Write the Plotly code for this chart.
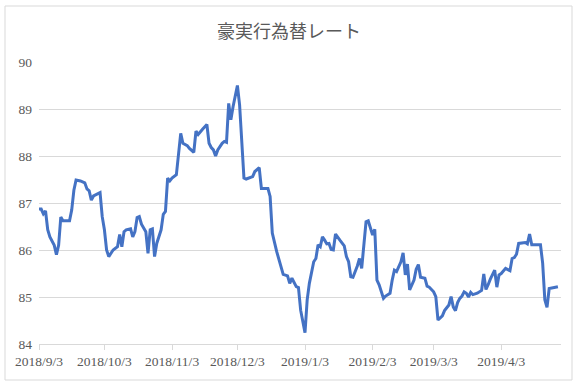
import plotly.graph_objects as go

dates = [
    "2018-09-03", "2018-09-04", "2018-09-05", "2018-09-06", "2018-09-07", "2018-09-08",
    "2018-09-10", "2018-09-11", "2018-09-12", "2018-09-13", "2018-09-14", "2018-09-17",
    "2018-09-18", "2018-09-19", "2018-09-20", "2018-09-22", "2018-09-24", "2018-09-25",
    "2018-09-26", "2018-09-27", "2018-09-28", "2018-10-01", "2018-10-02", "2018-10-03",
    "2018-10-04", "2018-10-05", "2018-10-07", "2018-10-09", "2018-10-10", "2018-10-11",
    "2018-10-12", "2018-10-13", "2018-10-15", "2018-10-16", "2018-10-17", "2018-10-18",
    "2018-10-19", "2018-10-20", "2018-10-22", "2018-10-23", "2018-10-24", "2018-10-25",
    "2018-10-26", "2018-10-27", "2018-10-29", "2018-10-30", "2018-10-31", "2018-11-01",
    "2018-11-02", "2018-11-03", "2018-11-05", "2018-11-06", "2018-11-07", "2018-11-08",
    "2018-11-10", "2018-11-11", "2018-11-13", "2018-11-14", "2018-11-15", "2018-11-17",
    "2018-11-18", "2018-11-19", "2018-11-20", "2018-11-21", "2018-11-22", "2018-11-23",
    "2018-11-24", "2018-11-26", "2018-11-27", "2018-11-28", "2018-11-29", "2018-11-30",
    "2018-12-01", "2018-12-03", "2018-12-04", "2018-12-05", "2018-12-06", "2018-12-07",
    "2018-12-10", "2018-12-11", "2018-12-13", "2018-12-14", "2018-12-17", "2018-12-18",
    "2018-12-19", "2018-12-21", "2018-12-24", "2018-12-26", "2018-12-27", "2018-12-28",
    "2018-12-29", "2018-12-30", "2018-12-31", "2019-01-01", "2019-01-03", "2019-01-04",
    "2019-01-05", "2019-01-07", "2019-01-08", "2019-01-09", "2019-01-10", "2019-01-11",
    "2019-01-12", "2019-01-13", "2019-01-14", "2019-01-15", "2019-01-16", "2019-01-17",
    "2019-01-19", "2019-01-21", "2019-01-22", "2019-01-23", "2019-01-24", "2019-01-25",
    "2019-01-27", "2019-01-28", "2019-01-29", "2019-01-30", "2019-01-31", "2019-02-01",
    "2019-02-02", "2019-02-03", "2019-02-04", "2019-02-05", "2019-02-06", "2019-02-08",
    "2019-02-09", "2019-02-11", "2019-02-12", "2019-02-13", "2019-02-14", "2019-02-16",
    "2019-02-17", "2019-02-18", "2019-02-19", "2019-02-20", "2019-02-22", "2019-02-23",
    "2019-02-24", "2019-02-25", "2019-02-27", "2019-02-28", "2019-03-01", "2019-03-03",
    "2019-03-04", "2019-03-05", "2019-03-07", "2019-03-08", "2019-03-10", "2019-03-11",
    "2019-03-12", "2019-03-13", "2019-03-14", "2019-03-15", "2019-03-16", "2019-03-17",
    "2019-03-18", "2019-03-19", "2019-03-20", "2019-03-21", "2019-03-23", "2019-03-25",
    "2019-03-26", "2019-03-27", "2019-03-28", "2019-03-29", "2019-03-31", "2019-04-01",
    "2019-04-02", "2019-04-03", "2019-04-05", "2019-04-07", "2019-04-08", "2019-04-09",
    "2019-04-10", "2019-04-11", "2019-04-14", "2019-04-15", "2019-04-16", "2019-04-17",
    "2019-04-21", "2019-04-22", "2019-04-23", "2019-04-24", "2019-04-25", "2019-04-28",
    "2019-04-29",
]

rates = [
    86.87, 86.87, 86.77, 86.83, 86.43, 86.28,
    86.10, 85.90, 86.10, 86.70, 86.62, 86.62,
    86.85, 87.27, 87.49, 87.47, 87.43, 87.30,
    87.26, 87.06, 87.15, 87.22, 86.71, 86.43,
    86.00, 85.86, 86.00, 86.07, 86.33, 86.07,
    86.39, 86.43, 86.45, 86.28, 86.39, 86.69,
    86.71, 86.55, 86.39, 85.93, 86.43, 86.45,
    85.86, 86.14, 86.43, 86.76, 86.82, 87.53,
    87.47, 87.53, 87.60, 88.02, 88.48, 88.27,
    88.22, 88.16, 88.08, 88.53, 88.46, 88.57,
    88.62, 88.67, 88.27, 88.18, 88.13, 88.00,
    88.13, 88.27, 88.31, 88.29, 89.12, 88.77,
    89.05, 89.50, 89.09, 88.31, 87.53, 87.51,
    87.56, 87.67, 87.75, 87.31, 87.31, 87.14,
    86.36, 85.97, 85.48, 85.45, 85.29, 85.40,
    85.30, 85.22, 85.20, 84.72, 84.24, 84.94,
    85.29, 85.75, 85.82, 86.11, 86.07, 86.28,
    86.21, 86.13, 86.14, 86.01, 86.00, 86.34,
    86.21, 86.09, 85.86, 85.75, 85.43, 85.42,
    85.66, 85.82, 85.61, 86.04, 86.60, 86.62,
    86.48, 86.32, 86.44, 85.36, 85.26, 84.97,
    85.02, 85.08, 85.36, 85.57, 85.54, 85.75,
    85.94, 85.47, 85.70, 85.15, 85.36, 85.59,
    85.69, 85.42, 85.40, 85.23, 85.21, 85.11,
    85.01, 84.51, 84.60, 84.71, 84.83, 85.01,
    84.79, 84.71, 84.88, 84.97, 85.02, 85.11,
    85.08, 85.00, 85.10, 85.05, 85.08, 85.14,
    85.49, 85.16, 85.26, 85.38, 85.57, 85.21,
    85.47, 85.50, 85.61, 85.56, 85.82, 85.84,
    85.91, 86.14, 86.16, 86.13, 86.34, 86.11,
    86.11, 85.72, 84.94, 84.78, 85.18, 85.21,
    85.22,
]

tick_dates = ["2018-09-03", "2018-10-03", "2018-11-03", "2018-12-03",
              "2019-01-03", "2019-02-03", "2019-03-03", "2019-04-03"]
tick_labels = ["2018/9/3", "2018/10/3", "2018/11/3", "2018/12/3",
               "2019/1/3", "2019/2/3", "2019/3/3", "2019/4/3"]
y_ticks = [84, 85, 86, 87, 88, 89, 90]
title_text = "豪実行為替レート"

W, H = 578, 386
ml, mr, mt, mb = 39, 17, 62, 42

fig = go.Figure()
fig.add_trace(go.Scatter(
    x=dates, y=rates, mode="lines",
    line=dict(color="#4472C4", width=3),
    showlegend=False, hoverinfo="x+y",
))

pw = W - ml - mr
ph = H - mt - mb
def px_x(p):
    return (p - ml) / pw
def px_y(p):
    return (H - mb - p) / ph

fig.add_shape(type="rect", xref="paper", yref="paper",
              x0=px_x(5), x1=px_x(572), y0=px_y(380), y1=px_y(6),
              line=dict(color="#d9d9d9", width=1), fillcolor="rgba(0,0,0,0)",
              layer="below")

fig.update_layout(
    width=W, height=H,
    margin=dict(l=ml, r=mr, t=mt, b=mb),
    paper_bgcolor="white", plot_bgcolor="white",
    title=dict(text=title_text, x=0.5, xanchor="center", y=1 - 32 / H, yanchor="middle",
               font=dict(family="Noto Sans CJK JP", size=18, color="#595959")),
    xaxis=dict(
        type="date",
        range=["2018-09-03", "2019-04-30 10:00"],
        tickvals=tick_dates, ticktext=tick_labels,
        showgrid=False, zeroline=False,
        showline=True, linecolor="#d9d9d9", linewidth=1,
        ticks="outside", ticklen=5, tickcolor="#d9d9d9",
        tickfont=dict(family="Liberation Serif", size=13.5, color="#595959"),
    ),
    yaxis=dict(
        range=[84, 90], tickvals=y_ticks,
        showgrid=True, gridcolor="#d9d9d9", gridwidth=1,
        zeroline=False, showline=False, ticks="",
        tickfont=dict(family="Liberation Serif", size=13.5, color="#595959"),
        ticklabelstandoff=6,
    ),
)

fig.write_html("out.html", config={"displayModeBar": False},
               post_script="document.body.style.margin='0';document.body.style.padding='0';")
